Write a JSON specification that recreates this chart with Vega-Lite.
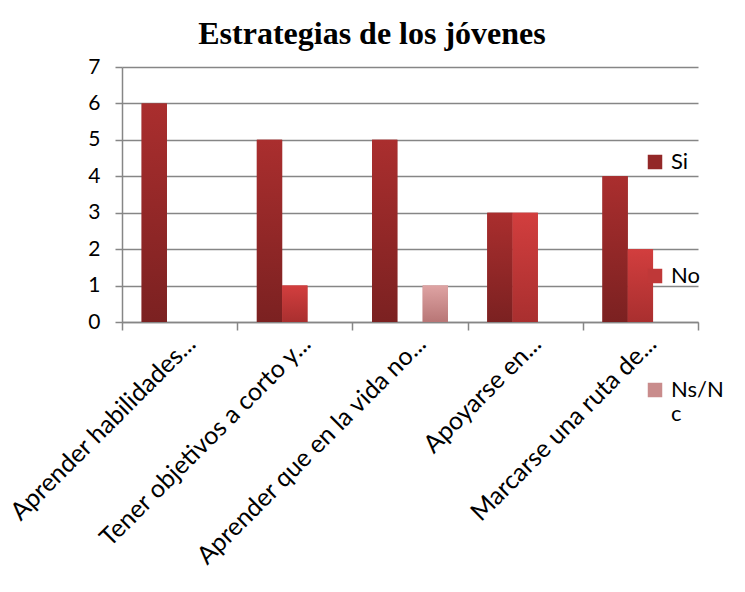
{
  "$schema": "https://vega.github.io/schema/vega-lite/v6.json",
  "width": 576,
  "height": 255,
  "autosize": {"type": "none"},
  "padding": {"left": 122, "top": 67, "right": 47, "bottom": 270},
  "background": "white",
  "title": {
    "text": "Estrategias de los jóvenes",
    "font": "Liberation Serif",
    "fontSize": 32,
    "fontWeight": "bold",
    "color": "black",
    "anchor": "middle",
    "dx": -38,
    "offset": 5
  },
  "data": {
    "values": [
      {"cat": "Aprender habilidades...", "serie": "Si", "value": 6},
      {"cat": "Aprender habilidades...", "serie": "No", "value": 0},
      {"cat": "Aprender habilidades...", "serie": "Ns/Nc", "value": 0},
      {"cat": "Tener objetivos a corto y...", "serie": "Si", "value": 5},
      {"cat": "Tener objetivos a corto y...", "serie": "No", "value": 1},
      {"cat": "Tener objetivos a corto y...", "serie": "Ns/Nc", "value": 0},
      {"cat": "Aprender que en la vida no...", "serie": "Si", "value": 5},
      {"cat": "Aprender que en la vida no...", "serie": "No", "value": 0},
      {"cat": "Aprender que en la vida no...", "serie": "Ns/Nc", "value": 1},
      {"cat": "Apoyarse en...", "serie": "Si", "value": 3},
      {"cat": "Apoyarse en...", "serie": "No", "value": 3},
      {"cat": "Apoyarse en...", "serie": "Ns/Nc", "value": 0},
      {"cat": "Marcarse una ruta de...", "serie": "Si", "value": 4},
      {"cat": "Marcarse una ruta de...", "serie": "No", "value": 2},
      {"cat": "Marcarse una ruta de...", "serie": "Ns/Nc", "value": 0}
    ]
  },
  "encoding": {
    "x": {
      "field": "cat",
      "type": "nominal",
      "sort": null,
      "scale": {"paddingInner": 0, "paddingOuter": 0},
      "axis": {
        "title": null,
        "labelAngle": -45,
        "labelAlign": "right",
        "labelBaseline": "alphabetic",
        "labelFont": "Lato",
        "labelFontSize": 25,
        "labelColor": "black",
        "labelLimit": 0,
        "labelPadding": 15,
        "labelOffset": 17,
        "tickBand": "extent",
        "tickSize": 8,
        "tickColor": "#868686",
        "tickWidth": 1.5,
        "domainColor": "#868686",
        "domainWidth": 1.5,
        "grid": false
      }
    },
    "xOffset": {"field": "serie", "type": "nominal", "sort": ["Si", "No", "Ns/Nc"], "scale": {"paddingInner": 0, "paddingOuter": 0.776}},
    "y": {
      "field": "value",
      "type": "quantitative",
      "scale": {"domain": [0, 7], "nice": false},
      "axis": {
        "title": null,
        "values": [0, 1, 2, 3, 4, 5, 6, 7],
        "labelFont": "Lato",
        "labelFontSize": 21,
        "labelColor": "black",
        "labelPadding": 15,
        "tickSize": 7,
        "tickColor": "#868686",
        "tickWidth": 1.5,
        "domainColor": "#868686",
        "domainWidth": 1.5,
        "gridColor": "#868686",
        "gridWidth": 1.5
      }
    }
  },
  "layer": [
    {
      "mark": {"type": "bar"},
      "encoding": {
        "color": {
          "field": "serie",
          "type": "nominal",
          "sort": ["Si", "No", "Ns/Nc"],
          "scale": {"domain": ["Si", "No", "Ns/Nc"], "range": ["#932828", "#bf3838", "#c98c8c"]},
          "legend": {
            "title": null,
            "orient": "none",
            "legendX": 522,
            "legendY": 84,
            "symbolType": "square",
            "symbolSize": 210,
            "symbolStrokeWidth": 0,
            "labelFont": "Lato",
            "labelFontSize": 22,
            "labelColor": "black",
            "labelOffset": 5,
            "rowPadding": 92,
            "labelExpr": "datum.label === 'Ns/Nc' ? ['Ns/N', 'c'] : datum.label"
          }
        }
      }
    },
    {
      "mark": {"type": "bar"},
      "encoding": {
        "fill": {
          "condition": [
            {"test": "datum.serie === 'Si'", "value": {"gradient": "linear", "x1": 0, "y1": 0, "x2": 0, "y2": 1, "stops": [{"offset": 0, "color": "#aa2e2e"}, {"offset": 1, "color": "#7b2121"}]}},
            {"test": "datum.serie === 'No'", "value": {"gradient": "linear", "x1": 0, "y1": 0, "x2": 0, "y2": 1, "stops": [{"offset": 0, "color": "#d23e3e"}, {"offset": 1, "color": "#a92f2f"}]}}
          ],
          "value": {"gradient": "linear", "x1": 0, "y1": 0, "x2": 0, "y2": 1, "stops": [{"offset": 0, "color": "#dea3a3"}, {"offset": 1, "color": "#b87676"}]}
        }
      }
    }
  ],
  "config": {
    "view": {"stroke": null}
  }
}
